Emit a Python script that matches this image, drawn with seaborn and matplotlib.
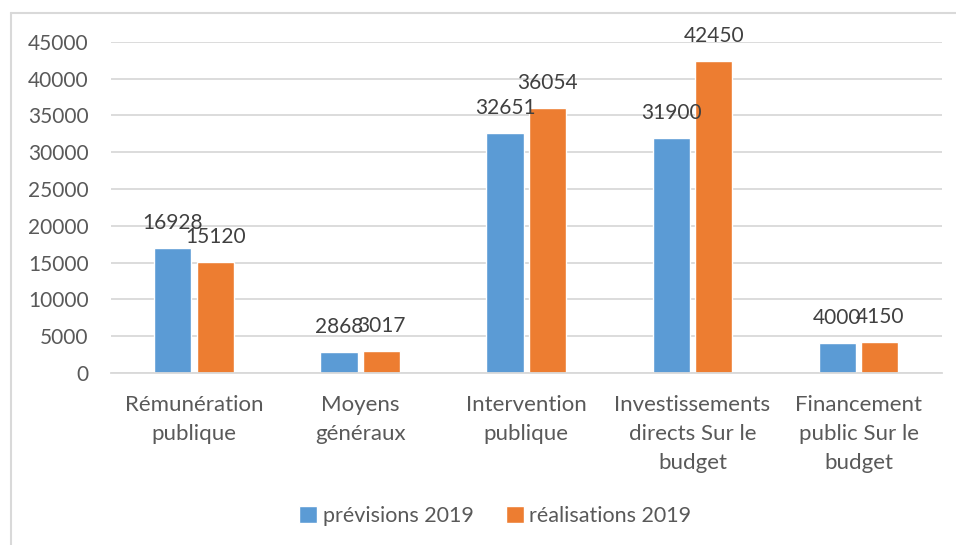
import matplotlib.pyplot as plt
import matplotlib.lines as mlines
import seaborn as sns
import pandas as pd

categories = ["Rémunération\npublique", "Moyens\ngénéraux", "Intervention\npublique",
              "Investissements\ndirects Sur le\nbudget", "Financement\npublic Sur le\nbudget"]
previsions = [16928, 2868, 32651, 31900, 4000]
realisations = [15120, 3017, 36054, 42450, 4150]
series = ["prévisions 2019", "réalisations 2019"]
colors = ["#5B9BD5", "#ED7D31"]
yticks = [0, 5000, 10000, 15000, 20000, 25000, 30000, 35000, 40000, 45000]

df = pd.DataFrame({
    "cat": categories * 2,
    "val": previsions + realisations,
    "serie": [series[0]] * 5 + [series[1]] * 5,
})

sns.set_style("white")
plt.rcParams["font.family"] = ["Lato", "DejaVu Sans"]

fig = plt.figure(figsize=(9.56, 5.45), dpi=100)
ax = fig.add_axes([0.116, 0.316, 0.869, 0.607])

sns.barplot(data=df, x="cat", y="val", hue="serie", palette=colors,
            width=0.51, gap=0.12, ax=ax, saturation=1, errorbar=None)

# data labels
for cont in ax.containers:
    for bar in cont:
        h = bar.get_height()
        ax.annotate(f"{int(h)}", (bar.get_x() + bar.get_width() / 2, h),
                    xytext=(0, 18), textcoords="offset points", ha="center", va="center",
                    fontsize=15, color="#404040", annotation_clip=False)

ax.set_ylim(0, 45000)
ax.set_xlim(-0.5, 4.5)
ax.set_yticks(yticks)
ax.set_yticklabels([str(t) for t in yticks])
ax.yaxis.grid(True, color="#D9D9D9", linewidth=1.3)
ax.set_axisbelow(True)
ax.set_xlabel("")
ax.set_ylabel("")
for s in ["top", "right", "left"]:
    ax.spines[s].set_visible(False)
ax.spines["bottom"].set_color("#D9D9D9")
ax.spines["bottom"].set_linewidth(1.3)
ax.tick_params(axis="y", length=0, pad=16, labelsize=15, labelcolor="#595959")
ax.tick_params(axis="x", length=0, pad=16, labelsize=16, labelcolor="#595959")
for lbl in ax.get_xticklabels():
    lbl.set_linespacing(1.55)

ax.legend(loc="center", bbox_to_anchor=(0.4626, -0.433), ncol=2, frameon=False,
          fontsize=15.5, labelcolor="#595959", handlelength=0.85, handleheight=0.85,
          handletextpad=0.25, columnspacing=1.5)

# chart border (top and left visible)
fig.add_artist(mlines.Line2D([0.0115, 1.0], [0.976, 0.976], color="#D9D9D9", lw=1.5))
fig.add_artist(mlines.Line2D([0.0115, 0.0115], [0.0, 0.976], color="#D9D9D9", lw=1.5))

fig.savefig("out.png", dpi=100)
